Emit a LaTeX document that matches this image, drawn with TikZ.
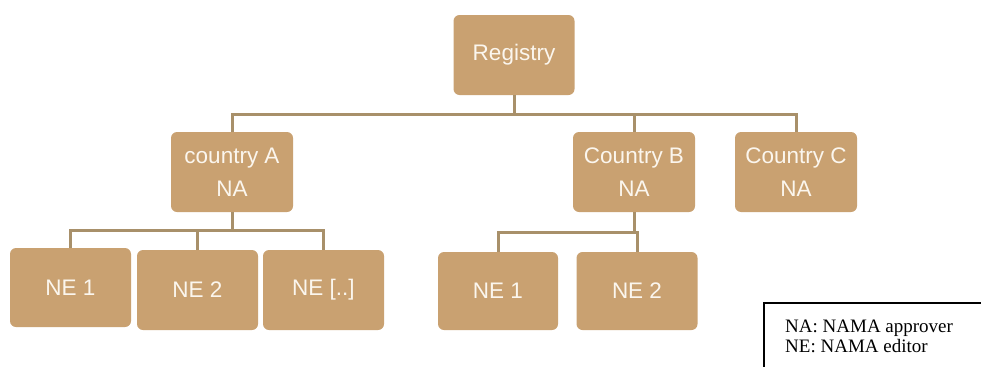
\documentclass[tikz,border=0pt]{standalone}
\usepackage{fontspec}
\setmainfont{Liberation Sans}
\newfontfamily\legendfont{Liberation Serif}
\definecolor{boxfill}{HTML}{C9A171}
\definecolor{linecol}{HTML}{A8906A}
\definecolor{txtcol}{HTML}{FBF6EE}
\begin{document}
\begin{tikzpicture}[x=1pt,y=-1pt,
  orgbox/.style={rectangle, rounded corners=6pt, fill=boxfill, draw=none, inner sep=0pt,
    minimum width=121pt, minimum height=80pt, align=center, text=txtcol,
    font=\fontsize{22.5}{33}\selectfont},
  conn/.style={draw=linecol, line width=3pt}]
\useasboundingbox (0,0) rectangle (981,367);
\node[orgbox] (reg) at (514,55) {Registry};
\node[orgbox, minimum width=122pt] (cA) at (232,172) {country A\\NA};
\node[orgbox, minimum width=122pt] (cB) at (634,172) {Country B\\NA};
\node[orgbox, minimum width=122pt] (cC) at (796,172) {Country C\\NA};
\node[orgbox, minimum height=79pt] (A1) at (70.5,287.5) {NE 1};
\node[orgbox] (A2) at (197.5,290) {NE 2};
\node[orgbox] (A3) at (323.5,290) {NE [..]};
\node[orgbox, minimum width=120pt, minimum height=78pt] (B1) at (498,291) {NE 1};
\node[orgbox, minimum height=78pt] (B2) at (637,291) {NE 2};
\coordinate (bus) at (514,114);
\coordinate (busA) at (232,230);
\coordinate (busB) at (634,232);
\draw[conn] (reg.south) -- (bus);
\draw[conn] (cA.north) |- (bus) -| (cC.north);
\draw[conn] (bus) -| (cB.north);
\draw[conn] (cA.south) -- (busA);
\draw[conn] (A1.north) |- (busA) -| (A3.north);
\draw[conn] (busA) -| (A2.north);
\draw[conn] (cB.south) -- (busB);
\draw[conn] (B1.north) |- (busB) -| (B2.north);
\coordinate (lgTR) at (981,303);
\coordinate (lgTL) at (764,303);
\coordinate (lgBL) at (764,367);
\draw[line width=1.5pt] (lgTR) -- (lgTL) -- (lgBL);
\node[anchor=base west, inner sep=0pt, align=left, font=\legendfont\fontsize{19}{19.5}\selectfont] (legend) at (785,352) {NA: NAMA approver\\NE: NAMA editor};
\end{tikzpicture}
\end{document}
